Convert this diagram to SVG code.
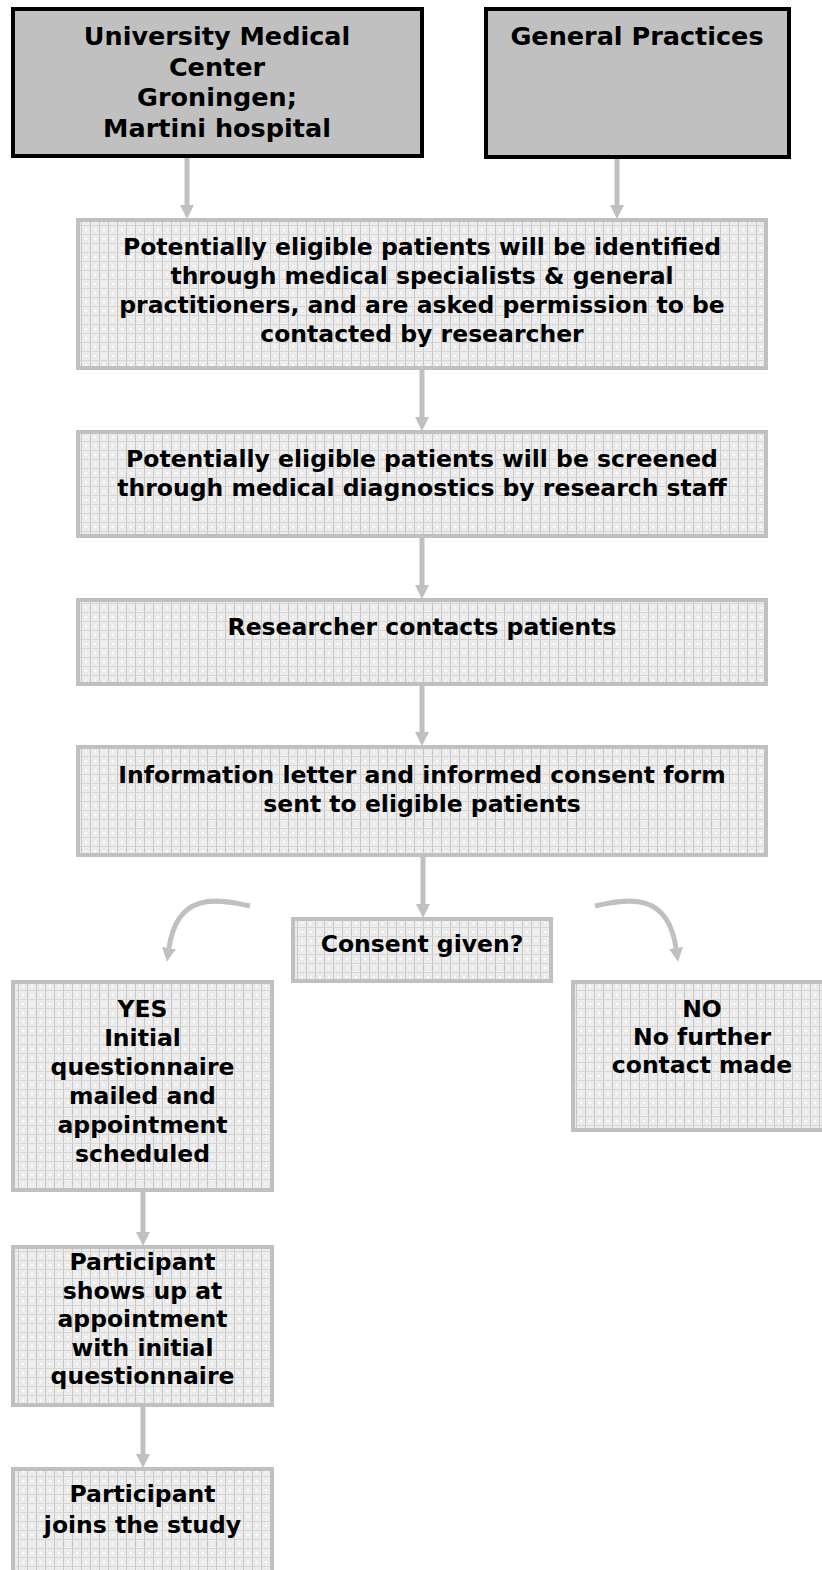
<svg xmlns="http://www.w3.org/2000/svg" width="822" height="1570" viewBox="0 0 822 1570">
<style>
.dark{fill:#c0c0c0;stroke:#000;stroke-width:4}
.grid{fill:url(#gp);stroke:#c0c0c0;stroke-width:4}
.t1{font-family:"DejaVu Sans",Verdana,sans-serif;font-weight:bold;font-size:25.5px;fill:#000;text-anchor:middle}
.t{font-family:"DejaVu Sans",Verdana,sans-serif;font-weight:bold;font-size:23.5px;fill:#000;text-anchor:middle}
.ar{fill:none;stroke:#c0c0c0;stroke-width:5;marker-end:url(#ah)}
</style>
<defs>
<pattern id="gp" width="9" height="9" patternUnits="userSpaceOnUse">
<rect width="9" height="9" fill="#ededed"/>
<rect x="0" y="0" width="1" height="9" fill="#c6c6c6"/>
<rect x="0" y="0" width="9" height="1" fill="#d6d6d6"/>
<circle cx="5" cy="5" r="2" fill="#fafafa" stroke="#dadada" stroke-width="0.6"/>
</pattern>
<marker id="ah" markerUnits="userSpaceOnUse" markerWidth="14" markerHeight="14" refX="0" refY="7" orient="auto" viewBox="0 0 14 14">
<path d="M0,0 L14,7 L0,14 z" fill="#c0c0c0"/>
</marker>
</defs>
<g id="connectors">
<path class="ar" d="M187,158 V205"/>
<path class="ar" d="M617,159 V205"/>
<path class="ar" d="M422,370 V417"/>
<path class="ar" d="M422,538 V585"/>
<path class="ar" d="M422,686 V732"/>
<path class="ar" d="M423,857 V904"/>
<path class="ar" d="M595,906 C630,898 668,893 676,948"/>
<path class="ar" d="M250,906 C215,898 177,893 169,948"/>
<path class="ar" d="M143,1192 V1232"/>
<path class="ar" d="M143,1407 V1454"/>
</g>
<g id="umcg">
<rect class="dark" x="13" y="9" width="409" height="147"/>
<text class="t1" x="217" y="45">University Medical</text>
<text class="t1" x="217" y="76">Center</text>
<text class="t1" x="217" y="106">Groningen;</text>
<text class="t1" x="217" y="137">Martini hospital</text>
</g>
<g id="gp-box">
<rect class="dark" x="486" y="9" width="303" height="148"/>
<text class="t1" x="637" y="45">General Practices</text>
</g>
<g id="identified">
<rect class="grid" x="78" y="220" width="688" height="148"/>
<text class="t" x="422" y="255">Potentially eligible patients will be identified</text>
<text class="t" x="422" y="284">through medical specialists &amp; general</text>
<text class="t" x="422" y="313">practitioners, and are asked permission to be</text>
<text class="t" x="422" y="342">contacted by researcher</text>
</g>
<g id="screened">
<rect class="grid" x="78" y="432" width="688" height="104"/>
<text class="t" x="422" y="467">Potentially eligible patients will be screened</text>
<text class="t" x="422" y="496">through medical diagnostics by research staff</text>
</g>
<g id="contacts">
<rect class="grid" x="78" y="600" width="688" height="84"/>
<text class="t" x="422" y="635">Researcher contacts patients</text>
</g>
<g id="letter">
<rect class="grid" x="78" y="747" width="688" height="108"/>
<text class="t" x="422" y="783">Information letter and informed consent form</text>
<text class="t" x="422" y="812">sent to eligible patients</text>
</g>
<g id="consent">
<rect class="grid" x="293" y="919" width="258" height="62"/>
<text class="t" x="422" y="952">Consent given?</text>
</g>
<g id="yes">
<rect class="grid" x="13" y="982" width="259" height="208"/>
<text class="t" x="142.5" y="1017">YES</text>
<text class="t" x="142.5" y="1046">Initial</text>
<text class="t" x="142.5" y="1075">questionnaire</text>
<text class="t" x="142.5" y="1104">mailed and</text>
<text class="t" x="142.5" y="1133">appointment</text>
<text class="t" x="142.5" y="1162">scheduled</text>
</g>
<g id="no">
<rect class="grid" x="573" y="982" width="253" height="148"/>
<text class="t" x="702" y="1017">NO</text>
<text class="t" x="702" y="1045">No further</text>
<text class="t" x="702" y="1073">contact made</text>
</g>
<g id="shows">
<rect class="grid" x="13" y="1247" width="259" height="158"/>
<text class="t" x="142.5" y="1270">Participant</text>
<text class="t" x="142.5" y="1298.5">shows up at</text>
<text class="t" x="142.5" y="1327">appointment</text>
<text class="t" x="142.5" y="1355.5">with initial</text>
<text class="t" x="142.5" y="1384">questionnaire</text>
</g>
<g id="joins">
<rect class="grid" x="13" y="1469" width="259" height="110"/>
<text class="t" x="142.5" y="1502">Participant</text>
<text class="t" x="142.5" y="1533">joins the study</text>
</g>
</svg>
